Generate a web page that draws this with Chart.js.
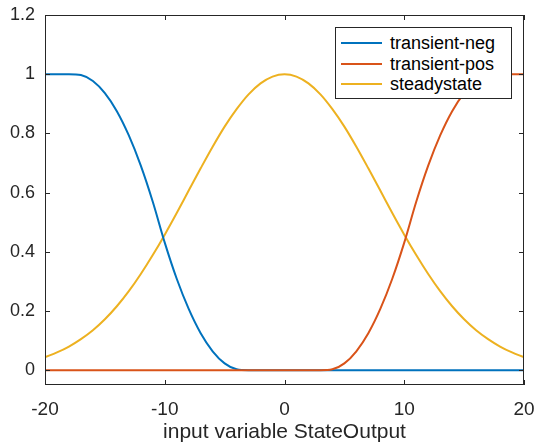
<!DOCTYPE html>
<html>
<head>
<meta charset="utf-8">
<script src="https://cdn.jsdelivr.net/npm/chart.js@4"></script>
<style>
  html, body { margin: 0; padding: 0; background: #fff; }
  #wrap { position: relative; width: 535px; height: 446px; }
  #legend {
    position: absolute; left: 335px; top: 27px; width: 177px; height: 72px;
    border: 1px solid #262626; background: #fff; box-sizing: border-box;
    font-family: "Liberation Sans", Arial, sans-serif; font-size: 18px; color: #000;
  }
  #legend .row { position: absolute; left: 0; height: 20px; line-height: 20px; white-space: nowrap; }
  #legend .sw { position: absolute; left: 5px; top: 9px; width: 41px; height: 2px; }
  #legend .tx { position: absolute; left: 54px; top: 0; }
</style>
</head>
<body>
<div id="wrap">
  <canvas id="chart" width="535" height="446"></canvas>
  <div id="legend"></div>
</div>
<script>
// x positions sampled along the input range
const xValues = [-20, -19, -18, -17, -16, -15, -14, -13, -12, -11, -10, -9, -8, -7, -6, -5, -4, -3, -2, -1,
                 0, 1, 2, 3, 4, 5, 6, 7, 8, 9, 10, 11, 12, 13, 14, 15, 16, 17, 18, 19, 20];

// values
const transientNeg = [1, 1, 1, 0.997, 0.977, 0.936, 0.875, 0.793, 0.691, 0.569, 0.431, 0.309, 0.207, 0.125, 0.064, 0.023, 0.003, 0, 0, 0,
                      0, 0, 0, 0, 0, 0, 0, 0, 0, 0, 0, 0, 0, 0, 0, 0, 0, 0, 0, 0, 0];
const transientPos = [0, 0, 0, 0, 0, 0, 0, 0, 0, 0, 0, 0, 0, 0, 0, 0, 0, 0, 0, 0,
                      0, 0, 0, 0, 0.003, 0.023, 0.064, 0.125, 0.207, 0.309, 0.431, 0.569, 0.691, 0.793, 0.875, 0.936, 0.977, 0.997, 1, 1, 1];
const steadyState = [0.044, 0.060, 0.080, 0.105, 0.135, 0.172, 0.216, 0.267, 0.325, 0.389, 0.458, 0.531, 0.607, 0.682, 0.755, 0.823, 0.882, 0.932, 0.969, 0.992,
                     1, 0.992, 0.969, 0.932, 0.882, 0.823, 0.755, 0.682, 0.607, 0.531, 0.458, 0.389, 0.325, 0.267, 0.216, 0.172, 0.135, 0.105, 0.080, 0.060, 0.044];

const seriesNames = ['transient-neg', 'transient-pos', 'steadystate'];
const seriesColors = ['#0072BD', '#D95319', '#EDB120'];
const xTicks = [-20, -10, 0, 10, 20];
const yTicks = [0, 0.2, 0.4, 0.6, 0.8, 1, 1.2];
const xLabel = 'input variable StateOutput';

const FONT = '"Liberation Sans", Arial, sans-serif';

function toPoints(ys) {
    return xValues.map((x, i) => ({ x: x, y: ys[i] }));
}

const allSeries = [transientNeg, transientPos, steadyState];
const datasets = allSeries.map((ys, i) => ({
    label: seriesNames[i],
    data: toPoints(ys),
    borderColor: seriesColors[i],
    borderWidth: 2,
    pointRadius: 0,
    fill: false,
    cubicInterpolationMode: 'monotone',
    order: i === 1 ? 0 : (i === 0 ? 1 : 2)
}));

// box and inward tick marks, like the matlab axes
const boxPlugin = {
    id: 'box',
    afterDatasetsDraw(chart) {
        const { ctx, chartArea: a, scales } = chart;
        const len = 5;
        ctx.save();
        ctx.strokeStyle = '#262626';
        ctx.lineWidth = 1;
        ctx.beginPath();
        xTicks.forEach(v => {
            const px = Math.round(scales.x.getPixelForValue(v)) + 0.5;
            ctx.moveTo(px, a.bottom); ctx.lineTo(px, a.bottom - len);
            ctx.moveTo(px, a.top); ctx.lineTo(px, a.top + len);
        });
        yTicks.forEach(v => {
            const py = Math.round(scales.y.getPixelForValue(v)) + 0.5;
            ctx.moveTo(a.left, py); ctx.lineTo(a.left + len, py);
            ctx.moveTo(a.right, py); ctx.lineTo(a.right - len, py);
        });
        ctx.stroke();
        ctx.strokeRect(Math.round(a.left) + 0.5, Math.round(a.top) + 0.5,
                       Math.round(a.right - a.left) - 1, Math.round(a.bottom - a.top) - 1);
        ctx.restore();
    }
};

new Chart(document.getElementById('chart').getContext('2d'), {
    type: 'line',
    data: { datasets: datasets },
    options: {
        responsive: false,
        animation: false,
        layout: { padding: { left: 0, right: 11, top: 15, bottom: 0 } },
        plugins: { legend: { display: false }, tooltip: { enabled: false } },
        scales: {
            x: {
                type: 'linear',
                min: -20, max: 20,
                grid: { display: false, drawTicks: false },
                border: { display: false },
                afterBuildTicks: s => { s.ticks = xTicks.map(v => ({ value: v })); },
                afterFit: s => { s.height = 61; s.paddingLeft = 0; s.paddingRight = 0; },
                ticks: { color: '#262626', padding: 13, maxRotation: 0, font: { family: FONT, size: 19 } },
                title: { display: true, text: xLabel, color: '#262626', padding: { top: 0, bottom: 1 },
                         font: { family: FONT, size: 21 } }
            },
            y: {
                type: 'linear',
                min: -0.05, max: 1.2,
                grid: { display: false, drawTicks: false },
                border: { display: false },
                afterBuildTicks: s => { s.ticks = yTicks.map(v => ({ value: v })); },
                afterFit: s => { s.width = 45; s.paddingTop = 0; s.paddingBottom = 0; },
                ticks: { color: '#262626', padding: 10, font: { family: FONT, size: 18 },
                         callback: v => String(Math.round(v * 10) / 10) }
            }
        }
    },
    plugins: [boxPlugin]
});

// legend box drawn in html
const legend = document.getElementById('legend');
seriesNames.forEach((name, i) => {
    const row = document.createElement('div');
    row.className = 'row';
    row.style.top = (5 + i * 20.5) + 'px';
    row.style.width = '100%';
    row.innerHTML = '<div class="sw" style="background:' + seriesColors[i] + '"></div><div class="tx">' + name + '</div>';
    legend.appendChild(row);
});
</script>
</body>
</html>
